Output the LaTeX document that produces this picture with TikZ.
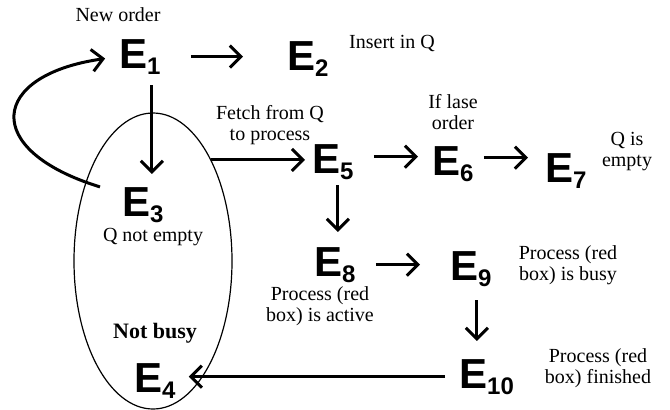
\documentclass[tikz,border=0pt]{standalone}
\usepackage{fontspec}
\setmainfont{Liberation Serif}
\setsansfont{Liberation Sans}
\usetikzlibrary{arrows.meta, shapes.geometric}

\tikzset{
  ev/.style={font=\fontsize{42}{42}\selectfont\sffamily\bfseries, inner sep=0pt, anchor=base west},
  note/.style={font=\fontsize{20}{21}\selectfont, align=center, inner sep=0pt},
  arr/.style={line width=3pt, -{Straight Barb[length=11pt,width=22pt]}},
}
\newcommand{\ev}[1]{E\raisebox{-6pt}{\fontsize{24}{24}\selectfont #1}}

\begin{document}
\begin{tikzpicture}[x=1pt,y=-1pt]
\useasboundingbox (0,0) rectangle (670,410);
\node[draw, ellipse, line width=1.2pt, minimum width=158pt, minimum height=296pt, inner sep=0pt] (pool) at (153,261) {};

\node[ev] (e1) at (119,68) {\ev{1}};
\node[ev] (e2) at (287,70) {\ev{2}};
\node[ev] (e3) at (122,216) {\ev{3}};
\node[ev] (e4) at (134,392) {\ev{4}};
\node[ev] (e5) at (312,173) {\ev{5}};
\node[ev] (e6) at (432,175) {\ev{6}};
\node[ev] (e7) at (545,182) {\ev{7}};
\node[ev] (e8) at (314,276) {\ev{8}};
\node[ev] (e9) at (450,280) {\ev{9}};
\node[ev] (e10) at (459,388) {\ev{10}};

\node[note] (neworder) at (118,15) {New order};
\node[note] (insert) at (392,43) {Insert in Q};
\node[note] (fetch) at (270,125) {Fetch from Q\\to process};
\node[note] (last) at (453,112) {If lase\\order};
\node[note] (empty) at (627,152) {Q is\\empty};
\node[note] (notempty) at (153,237) {Q not empty};
\node[note, font=\fontsize{22}{22}\selectfont\bfseries] (notbusy) at (155,333) {Not busy};
\node[note] (active) at (320,306) {Process (red\\box) is active};
\node[note] (busy) at (568,265) {Process (red\\box) is busy};
\node[note] (finished) at (598,368) {Process (red\\box) finished};

\draw[arr, shorten <=30pt, shorten >=44pt] (e1.east) -- (e1.east -| e2.west);
\draw[arr, shorten <=11pt, shorten >=13pt] ([xshift=12pt]e1.south) -- ([xshift=12pt]e1.south |- e3.north);
\draw[arr, shorten >=14pt] ([xshift=-22pt]e3.north west) .. controls (-20,150) and (-10,75) .. (e1.west);
\draw[arr, shorten >=7pt] (pool.60) -- (pool.60 -| e5.west);
\draw[arr, shorten <=20pt, shorten >=14pt] ([yshift=5pt]e5.east) -- ([yshift=5pt]e5.east -| e6.west);
\draw[arr, shorten <=10pt, shorten >=17pt] ([yshift=6pt]e6.east) -- ([yshift=6pt]e6.east -| e7.west);
\draw[arr, shorten <=6pt, shorten >=15pt] ([xshift=5pt]e5.south) -- ([xshift=5pt]e5.south |- e8.north);
\draw[arr, shorten <=20pt, shorten >=30pt] (e8.east) -- (e8.east -| e9.west);
\draw[arr, shorten <=14pt, shorten >=18pt] ([xshift=6pt]e9.south) -- ([xshift=6pt]e9.south |- e10.north);
\draw[arr, shorten <=14pt] (e10.west) -- ([xshift=13pt]e10.west -| e4.east);
\end{tikzpicture}
\end{document}
